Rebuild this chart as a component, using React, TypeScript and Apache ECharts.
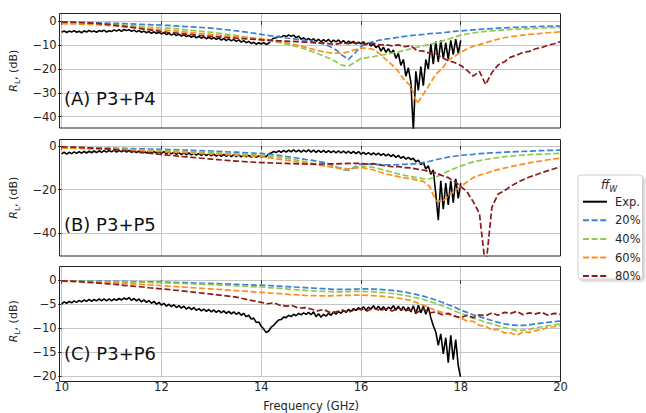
import React, { useEffect, useRef } from 'react';
import * as echarts from 'echarts';

// ---------- data ----------
// model curves sampled every 0.125 GHz from 10 to 20 GHz (81 points)
const MODEL_FREQ: number[] = Array.from({ length: 81 }, (_, i) => 10 + i * 0.125);
// measured curves sampled every 0.05 GHz from 10 to 18 GHz (161 points)
const EXP_FREQ: number[] = Array.from({ length: 161 }, (_, i) => +(10 + i * 0.05).toFixed(2));

const SERIES_NAMES = ['Exp.', '20%', '40%', '60%', '80%'];
const PANEL_LABELS = ['(A) P3+P4', '(B) P3+P5', '(C) P3+P6'];
const X_TICKS = [10, 12, 14, 16, 18, 20];
const Y_TICKS_A = [-40, -30, -20, -10, 0];
const Y_TICKS_B = [-40, -20, 0];
const Y_TICKS_C = [-20, -15, -10, -5, 0];

// ---- Panel A : P3+P4 ----
const A_EXP = [
  -4.6, -4.0, -4.7, -4.1, -4.5, -3.9, -4.6, -4.2, -4.8, -4.0, -4.5, -3.8, -4.4, -4.1, -4.6, -3.9, -4.3, -3.7, -4.5, -4.0,
  -4.3, -3.6, -4.1, -3.5, -4.2, -3.4, -3.9, -3.5, -4.2, -3.7, -4.4, -3.9, -4.6, -4.1, -4.8, -4.3, -5.0, -4.4, -5.1, -4.6,
  -5.3, -4.7, -5.6, -5.0, -5.8, -5.2, -6.0, -5.4, -6.2, -5.6, -6.4, -5.9, -6.7, -6.1, -6.9, -6.3, -7.1, -6.5, -7.3, -6.7,
  -7.4, -6.8, -7.6, -7.0, -7.9, -7.2, -8.1, -7.4, -8.2, -7.6, -8.4, -7.8, -8.7, -8.1, -9.0, -8.4, -9.3, -8.8, -9.6, -9.0,
  -9.5, -8.9, -9.7, -9.2, -7.9, -7.1, -6.9, -6.3, -6.7, -5.9, -6.4, -5.7, -6.3, -5.8, -6.9, -6.2, -7.5, -6.9, -7.8, -7.2,
  -8.1, -7.3, -8.4, -7.5, -8.6, -7.7, -8.5, -7.6, -8.8, -7.9, -8.6, -7.8, -9.0, -8.1, -9.2, -8.3, -9.1, -8.4, -9.5, -8.7,
  -9.4, -8.6, -9.8, -9.0, -10.4, -9.5, -11.0, -10.2, -12.5, -10.8, -13.0, -11.5, -13.5, -12.0, -15.5, -13.5, -18.5, -16.0, -23.0, -19.5,
  -25.5, -46.0, -21.0, -29.0, -19.0, -27.0, -16.0, -20.0, -9.5, -18.0, -8.5, -17.0, -8.0, -15.5, -9.0, -16.0, -8.0, -14.0, -7.5, -13.5,
  -8.0,
];
const A_20 = [
  -0.4, -0.4, -0.45, -0.5, -0.55, -0.6, -0.7, -0.75,
  -0.8, -0.9, -1.0, -1.1, -1.2, -1.3, -1.4, -1.5,
  -1.6, -1.75, -1.9, -2.05, -2.2, -2.35, -2.55, -2.7,
  -2.9, -3.15, -3.4, -3.7, -4.0, -4.35, -4.7, -5.1,
  -5.5, -5.9, -6.2, -6.6, -7.0, -7.3, -7.6, -7.95,
  -8.3, -8.8, -9.5, -10.6, -12.0, -14.3, -16.0, -13.4,
  -10.6, -9.3, -8.5, -7.9, -7.5, -7.1, -6.7, -6.3,
  -6.0, -5.7, -5.5, -5.2, -5.0, -4.8, -4.5, -4.2,
  -4.0, -3.8, -3.6, -3.4, -3.2, -3.05, -2.9, -2.75,
  -2.6, -2.5, -2.4, -2.3, -2.2, -2.15, -2.1, -2.05,
  -2.0,
];
const A_40 = [
  -0.7, -0.75, -0.8, -0.85, -0.95, -1.05, -1.15, -1.2,
  -1.3, -1.45, -1.6, -1.8, -2.0, -2.2, -2.4, -2.55,
  -2.7, -2.9, -3.1, -3.35, -3.6, -3.85, -4.1, -4.35,
  -4.6, -4.9, -5.3, -5.6, -6.0, -6.4, -6.8, -7.2,
  -7.6, -8.1, -8.6, -9.0, -9.5, -10.1, -10.8, -11.6,
  -12.5, -13.5, -14.5, -15.6, -17.0, -18.4, -18.8, -17.2,
  -15.6, -15.2, -14.8, -14.3, -13.8, -13.3, -12.8, -12.2,
  -11.5, -10.9, -10.3, -9.7, -9.0, -8.3, -7.5, -6.6,
  -5.8, -5.3, -4.9, -4.5, -4.2, -4.0, -3.8, -3.6,
  -3.4, -3.3, -3.2, -3.05, -2.9, -2.8, -2.7, -2.65,
  -2.6,
];
const A_60 = [
  -1.0, -1.05, -1.1, -1.2, -1.3, -1.45, -1.55, -1.7,
  -1.8, -2.0, -2.2, -2.45, -2.7, -2.95, -3.2, -3.35,
  -3.5, -3.75, -4.0, -4.25, -4.5, -4.75, -5.0, -5.25,
  -5.5, -5.75, -5.95, -6.2, -6.4, -6.6, -6.85, -7.05,
  -7.3, -7.7, -8.1, -8.5, -9.0, -9.6, -10.2, -10.8,
  -11.5, -12.2, -12.8, -13.2, -13.4, -13.3, -12.8, -12.0,
  -11.2, -11.3, -11.8, -13.6, -16.0, -18.3, -21.0, -24.8,
  -27.2, -34.5, -30.6, -26.5, -22.2, -19.8, -16.3, -14.7,
  -13.0, -11.6, -10.5, -9.8, -9.0, -8.2, -7.5, -6.9,
  -6.4, -6.1, -5.8, -5.5, -5.3, -5.0, -4.8, -4.6,
  -4.4,
];
const A_80 = [
  -0.3, -0.35, -0.4, -0.5, -0.6, -0.75, -0.95, -1.2,
  -1.5, -1.8, -2.1, -2.45, -2.8, -3.2, -3.55, -3.9,
  -4.3, -4.6, -4.85, -5.1, -5.4, -5.6, -5.85, -6.1,
  -6.3, -6.5, -6.7, -6.9, -7.1, -7.3, -7.45, -7.6,
  -7.8, -7.9, -8.05, -8.2, -8.3, -8.45, -8.55, -8.7,
  -8.8, -9.2, -9.0, -9.5, -9.6, -9.1, -9.4, -9.0,
  -9.3, -9.7, -9.2, -9.9, -9.8, -10.3, -9.9, -10.6,
  -10.2, -12.3, -12.5, -13.4, -13.5, -15.2, -16.5, -17.3,
  -18.5, -20.5, -23.0, -21.0, -26.5, -21.5, -18.3, -17.0,
  -15.0, -14.2, -13.0, -12.6, -11.5, -11.0, -10.0, -9.4,
  -8.5,
];

// ---- Panel B : P3+P5 ----
const B_EXP = [
  -3.6, -2.8, -3.7, -2.9, -3.5, -2.7, -3.4, -2.6, -3.3, -2.5, -3.2, -2.4, -3.1, -2.3, -3.0, -2.2, -2.9, -2.1, -2.8, -2.0,
  -2.7, -1.9, -2.8, -2.0, -2.7, -1.9, -2.8, -2.0, -2.9, -2.1, -3.0, -2.2, -3.1, -2.3, -3.2, -2.4, -3.3, -2.5, -3.4, -2.6,
  -3.4, -2.6, -3.5, -2.7, -3.6, -2.8, -3.8, -3.0, -3.9, -3.1, -4.0, -3.2, -4.1, -3.3, -4.2, -3.4, -4.3, -3.5, -4.4, -3.6,
  -4.5, -3.7, -4.6, -3.8, -4.7, -3.8, -4.8, -3.9, -4.9, -4.0, -4.9, -4.1, -5.0, -4.2, -5.0, -4.3, -5.1, -4.4, -5.2, -4.5,
  -5.1, -4.3, -4.9, -3.6, -3.2, -2.5, -3.0, -2.2, -2.9, -2.0, -2.8, -1.9, -2.7, -1.8, -2.7, -1.9, -2.8, -1.9, -2.7, -1.8,
  -2.8, -1.9, -2.9, -2.0, -2.9, -2.0, -3.0, -2.1, -3.0, -2.2, -3.1, -2.2, -3.2, -2.3, -3.3, -2.4, -3.4, -2.5, -3.5, -2.6,
  -3.7, -2.9, -3.8, -3.0, -4.0, -3.2, -4.1, -3.3, -4.3, -3.5, -4.5, -3.7, -4.8, -4.0, -5.2, -4.3, -5.6, -4.8, -6.0, -5.2,
  -6.2, -5.6, -7.2, -6.5, -8.5, -7.5, -10.5, -9.0, -13.0, -11.0, -22.0, -34.0, -16.0, -29.0, -17.0, -27.0, -16.0, -26.0, -15.0, -24.0,
  -17.0,
];
const B_20 = [
  -0.8, -0.82, -0.85, -0.88, -0.9, -0.93, -0.96, -0.98,
  -1.0, -1.05, -1.1, -1.17, -1.25, -1.3, -1.38, -1.45,
  -1.5, -1.6, -1.7, -1.8, -1.9, -2.0, -2.1, -2.2,
  -2.3, -2.45, -2.6, -2.75, -2.85, -3.0, -3.15, -3.3,
  -3.4, -3.7, -4.0, -4.4, -4.8, -5.2, -5.6, -6.1,
  -6.5, -7.0, -7.5, -8.4, -9.5, -10.8, -11.2, -9.6,
  -8.2, -8.3, -8.4, -8.5, -8.6, -8.6, -8.5, -8.4,
  -8.3, -8.0, -7.6, -7.0, -6.3, -5.7, -5.1, -4.7,
  -4.3, -4.0, -3.8, -3.5, -3.3, -3.15, -3.0, -2.85,
  -2.7, -2.6, -2.5, -2.35, -2.2, -2.1, -2.0, -1.95,
  -1.9,
];
const B_40 = [
  -0.9, -0.95, -1.0, -1.05, -1.1, -1.15, -1.2, -1.25,
  -1.3, -1.4, -1.5, -1.6, -1.7, -1.8, -1.9, -2.0,
  -2.1, -2.2, -2.3, -2.4, -2.55, -2.65, -2.75, -2.9,
  -3.0, -3.15, -3.3, -3.45, -3.6, -3.75, -3.9, -4.05,
  -4.2, -4.5, -4.9, -5.2, -5.6, -6.1, -6.6, -7.2,
  -7.8, -8.4, -8.9, -9.5, -10.0, -10.6, -11.0, -10.0,
  -9.2, -9.4, -9.8, -10.5, -11.3, -12.0, -12.8, -13.4,
  -14.0, -14.5, -15.0, -15.0, -14.2, -13.0, -11.5, -10.3,
  -9.2, -8.2, -7.3, -6.7, -6.2, -5.7, -5.3, -4.9,
  -4.6, -4.4, -4.2, -4.0, -3.8, -3.7, -3.6, -3.5,
  -3.4,
];
const B_60 = [
  -1.0, -1.05, -1.1, -1.15, -1.2, -1.3, -1.35, -1.45,
  -1.5, -1.65, -1.8, -1.95, -2.1, -2.25, -2.4, -2.5,
  -2.6, -2.75, -2.85, -3.0, -3.1, -3.25, -3.35, -3.5,
  -3.6, -3.75, -3.9, -4.1, -4.25, -4.4, -4.55, -4.75,
  -4.9, -5.3, -5.7, -6.1, -6.5, -6.9, -7.4, -7.8,
  -8.3, -8.7, -9.1, -9.5, -9.8, -10.2, -10.5, -10.1,
  -9.8, -10.4, -11.0, -11.9, -12.8, -13.4, -14.0, -14.6,
  -15.0, -15.6, -16.2, -18.5, -25.0, -25.5, -23.0, -20.5,
  -18.5, -16.5, -14.5, -13.4, -12.5, -11.6, -10.8, -10.1,
  -9.5, -8.9, -8.3, -7.7, -7.2, -6.8, -6.3, -5.9,
  -5.6,
];
const B_80 = [
  -0.4, -0.45, -0.55, -0.65, -0.8, -0.95, -1.15, -1.3,
  -1.5, -1.8, -2.1, -2.4, -2.7, -3.0, -3.3, -3.6,
  -3.9, -4.2, -4.45, -4.75, -5.0, -5.25, -5.5, -5.75,
  -6.0, -6.25, -6.5, -6.7, -6.9, -7.1, -7.3, -7.45,
  -7.6, -7.7, -7.8, -7.9, -8.0, -8.1, -8.2, -8.25,
  -8.3, -8.3, -8.25, -8.2, -8.2, -8.1, -8.0, -8.0,
  -8.0, -8.3, -8.1, -8.7, -9.0, -9.5, -9.4, -9.9,
  -10.0, -10.6, -11.0, -11.8, -12.3, -13.5, -14.5, -16.2,
  -18.5, -21.0, -25.5, -31.0, -56.0, -28.0, -22.0, -20.5,
  -18.5, -16.8, -15.5, -14.2, -13.3, -12.2, -11.3, -10.4,
  -9.5,
];

// ---- Panel C : P3+P6 ----
const C_EXP = [
  -4.9, -4.5, -4.8, -4.4, -4.7, -4.3, -4.6, -4.2, -4.5, -4.1, -4.4, -4.0, -4.4, -4.0, -4.3, -3.9, -4.3, -3.9, -4.3, -3.9,
  -4.3, -3.9, -4.2, -3.8, -4.1, -3.7, -4.0, -3.6, -4.2, -3.8, -4.3, -3.9, -4.5, -4.1, -4.6, -4.2, -4.8, -4.4, -5.0, -4.6,
  -5.2, -4.8, -5.4, -5.0, -5.5, -5.1, -5.7, -5.3, -5.8, -5.4, -6.0, -5.6, -6.1, -5.7, -6.3, -5.9, -6.4, -6.0, -6.5, -6.1,
  -6.6, -6.2, -6.7, -6.3, -6.8, -6.4, -6.9, -6.5, -7.0, -6.6, -7.1, -6.7, -7.3, -6.9, -7.6, -7.3, -8.1, -7.9, -8.8, -8.7,
  -9.6, -10.2, -10.9, -10.6, -9.8, -9.4, -8.8, -8.3, -8.2, -7.7, -7.8, -7.3, -7.6, -7.1, -7.4, -6.9, -7.2, -6.8, -7.1, -6.7,
  -7.2, -6.6, -7.6, -7.0, -7.7, -7.1, -7.5, -6.9, -7.3, -6.6, -7.1, -6.5, -6.9, -6.3, -6.7, -6.1, -6.5, -5.9, -6.3, -5.7,
  -6.2, -5.5, -6.3, -5.6, -6.0, -5.3, -6.1, -5.4, -6.2, -5.5, -6.3, -5.6, -6.0, -5.3, -6.2, -5.4, -6.3, -5.5, -6.4, -5.6,
  -6.6, -5.3, -7.0, -5.2, -6.8, -5.4, -7.1, -5.6, -7.8, -9.5, -10.8, -13.6, -11.2, -15.4, -12.0, -17.2, -11.5, -16.6, -12.4, -17.8,
  -20.5,
];
const C_20 = [
  -0.1, -0.1, -0.1, -0.12, -0.14, -0.15, -0.17, -0.18,
  -0.2, -0.22, -0.24, -0.26, -0.28, -0.3, -0.32, -0.34,
  -0.35, -0.38, -0.42, -0.46, -0.5, -0.54, -0.58, -0.62,
  -0.65, -0.7, -0.75, -0.8, -0.85, -0.9, -0.95, -1.0,
  -1.0, -1.08, -1.15, -1.22, -1.3, -1.38, -1.45, -1.52,
  -1.6, -1.68, -1.75, -1.82, -1.9, -1.9, -1.88, -1.85,
  -1.8, -1.8, -1.85, -1.9, -2.0, -2.1, -2.25, -2.45,
  -2.7, -3.0, -3.3, -3.7, -4.1, -4.6, -5.1, -5.6,
  -6.2, -6.7, -7.2, -7.6, -8.0, -8.4, -8.8, -9.1,
  -9.3, -9.4, -9.4, -9.3, -9.1, -8.95, -8.8, -8.65,
  -8.5,
];
const C_40 = [
  -0.15, -0.16, -0.18, -0.2, -0.21, -0.23, -0.26, -0.28,
  -0.3, -0.32, -0.35, -0.38, -0.4, -0.42, -0.45, -0.48,
  -0.5, -0.55, -0.6, -0.65, -0.7, -0.75, -0.8, -0.85,
  -0.9, -0.96, -1.02, -1.08, -1.15, -1.22, -1.28, -1.34,
  -1.4, -1.5, -1.6, -1.7, -1.8, -1.9, -2.0, -2.1,
  -2.2, -2.25, -2.3, -2.35, -2.4, -2.4, -2.35, -2.3,
  -2.3, -2.35, -2.4, -2.5, -2.6, -2.75, -2.95, -3.15,
  -3.4, -3.7, -4.0, -4.4, -4.8, -5.3, -5.8, -6.4,
  -6.9, -7.4, -7.9, -8.3, -8.8, -9.1, -9.5, -9.9,
  -10.2, -10.5, -10.4, -10.3, -9.9, -9.7, -9.5, -9.3,
  -9.1,
];
const C_60 = [
  -0.2, -0.23, -0.26, -0.3, -0.33, -0.37, -0.41, -0.45,
  -0.5, -0.57, -0.64, -0.72, -0.8, -0.87, -0.95, -1.02,
  -1.1, -1.2, -1.28, -1.36, -1.45, -1.54, -1.62, -1.71,
  -1.8, -1.88, -1.97, -2.06, -2.15, -2.23, -2.32, -2.41,
  -2.5, -2.6, -2.7, -2.8, -2.9, -3.0, -3.05, -3.15,
  -3.2, -3.2, -3.25, -3.25, -3.2, -3.15, -3.15, -3.1,
  -3.1, -3.15, -3.2, -3.3, -3.4, -3.55, -3.75, -3.95,
  -4.2, -4.7, -5.2, -5.8, -6.3, -6.7, -7.1, -7.5,
  -7.9, -8.5, -8.6, -9.4, -9.6, -10.4, -10.2, -11.0,
  -11.0, -11.5, -10.8, -10.9, -10.5, -10.3, -9.8, -9.7,
  -9.4,
];
const C_80 = [
  -0.1, -0.15, -0.2, -0.3, -0.4, -0.5, -0.6, -0.7,
  -0.8, -0.9, -1.05, -1.15, -1.3, -1.4, -1.55, -1.65,
  -1.8, -1.9, -2.05, -2.15, -2.3, -2.45, -2.6, -2.75,
  -2.9, -3.05, -3.2, -3.35, -3.5, -3.8, -4.1, -4.35,
  -4.6, -4.9, -4.7, -5.2, -5.4, -5.3, -5.8, -5.7,
  -6.0, -6.4, -6.1, -6.7, -6.6, -6.2, -6.7, -6.1,
  -6.0, -6.4, -5.8, -6.3, -5.9, -6.4, -5.8, -6.3,
  -6.2, -6.7, -6.0, -6.8, -6.6, -7.2, -6.9, -7.5,
  -7.8, -7.3, -7.8, -7.2, -7.4, -6.8, -7.3, -6.7,
  -6.9, -6.5, -7.2, -6.8, -7.0, -6.7, -7.3, -6.9,
  -7.1,
];

const PANELS = [
  [A_EXP, A_20, A_40, A_60, A_80],
  [B_EXP, B_20, B_40, B_60, B_80],
  [C_EXP, C_20, C_40, C_60, C_80],
];
const Y_TICKS = [Y_TICKS_A, Y_TICKS_B, Y_TICKS_C];

// ---------- styling / layout ----------
const FONT = 'DejaVu Sans';
const INK = '#262626';
const COLORS = ['#000000', '#3d80d4', '#8ccb4e', '#ff8d1e', '#8b1a1a'];
const GRIDS = [
  { left: 59.5, top: 13.5, width: 501, height: 114.5 },
  { left: 59.5, top: 139.5, width: 501, height: 116.5 },
  { left: 59.5, top: 266.5, width: 501, height: 115 },
];
const Y_RANGES = [
  [-44.74, 3.27],
  [-50.4, 2.98],
  [-20, 2.89],
];
const LABEL_Y = [98.5, 224, 353.5];

const fmtMinus = (v: number) => (v < 0 ? '\u2212' + Math.abs(v) : String(v));

export default function App() {
  const ref = useRef<HTMLDivElement>(null);

  useEffect(() => {
    if (!ref.current) return;
    const chart = echarts.init(ref.current, undefined, { renderer: 'svg' });

    const xAxis = GRIDS.map((_, i) => ({
      type: 'value',
      gridIndex: i,
      min: 10,
      max: 20,
      interval: 2,
      axisLine: { show: false },
      axisTick: { show: true, length: 3.5, lineStyle: { color: INK, width: 1 } },
      axisLabel: {
        show: i === 2,
        fontSize: 11.5,
        color: INK,
        fontFamily: FONT,
        margin: 5,
        customValues: X_TICKS,
      },
      splitLine: { show: true, lineStyle: { color: '#c6c6c6', width: 1 } },
      name: i === 2 ? 'Frequency (GHz)' : '',
      nameLocation: 'middle',
      nameGap: 24,
      nameTextStyle: { fontSize: 11.5, color: INK, fontFamily: FONT },
    }));

    const yAxis = GRIDS.map((_, i) => ({
      type: 'value',
      gridIndex: i,
      min: Y_RANGES[i][0],
      max: Y_RANGES[i][1],
      axisLine: { show: false },
      axisTick: { show: true, length: 3.5, customValues: Y_TICKS[i], lineStyle: { color: INK, width: 1 } },
      axisLabel: {
        customValues: Y_TICKS[i],
        formatter: fmtMinus,
        fontSize: 11.5,
        color: INK,
        fontFamily: FONT,
        margin: 5,
      },
      splitLine: { show: true, lineStyle: { color: '#c6c6c6', width: 1 } },
      name: '{r|R}{s|L}{t|, (dB)}',
      nameLocation: 'middle',
      nameGap: 37,
      nameRotate: 90,
      nameTextStyle: {
        color: INK,
        fontFamily: FONT,
        rich: {
          r: { fontSize: 11, fontStyle: 'italic', fontFamily: FONT, color: INK, lineHeight: 16, verticalAlign: 'middle' },
          s: { fontSize: 7.5, fontFamily: FONT, color: INK, lineHeight: 9, verticalAlign: 'bottom' },
          t: { fontSize: 11, fontFamily: FONT, color: INK, lineHeight: 16, verticalAlign: 'middle' },
        },
      },
    }));

    const series: any[] = [];
    PANELS.forEach((arrs, p) => {
      arrs.forEach((vals, k) => {
        const freq = k === 0 ? EXP_FREQ : MODEL_FREQ;
        series.push({
          type: 'line',
          name: SERIES_NAMES[k],
          xAxisIndex: p,
          yAxisIndex: p,
          data: freq.map((f, j) => [f, vals[j]]),
          symbol: 'none',
          showSymbol: false,
          clip: true,
          silent: true,
          z: k === 0 ? 2 : 3,
          itemStyle: { color: COLORS[k] },
          lineStyle: {
            color: COLORS[k],
            width: k === 0 ? 1.6 : 1.7,
            type: k === 0 ? 'solid' : [6, 2.6],
          },
        });
      });
    });

    const graphic: any[] = [];
    GRIDS.forEach((g, i) => {
      graphic.push({
        type: 'rect',
        silent: true,
        z: 100,
        shape: { x: g.left, y: g.top, width: g.width, height: g.height },
        style: { fill: 'none', stroke: '#222222', lineWidth: 1 },
      });
      graphic.push({
        type: 'text',
        silent: true,
        z: 50,
        x: 64,
        y: LABEL_Y[i],
        style: {
          text: PANEL_LABELS[i],
          fontSize: 18,
          fontFamily: FONT,
          fill: '#111111',
          verticalAlign: 'middle',
          textAlign: 'left',
        },
      });
    });
    // legend frame and title
    graphic.push({
      type: 'rect',
      silent: true,
      z: 1,
      shape: { x: 578, y: 175, width: 64.5, height: 104, r: 3 },
      style: {
        fill: '#ffffff',
        stroke: '#cfcfcf',
        lineWidth: 1,
        shadowColor: 'rgba(0,0,0,0.18)',
        shadowOffsetX: 2,
        shadowOffsetY: 2,
        shadowBlur: 2,
      },
    });
    graphic.push({
      type: 'text',
      silent: true,
      z: 2,
      x: 609,
      y: 185,
      style: {
        text: '{i|ff}{s|W}',
        textAlign: 'center',
        verticalAlign: 'middle',
        rich: {
          i: { fontSize: 11.5, fontStyle: 'italic', fontFamily: FONT, fill: INK, lineHeight: 16, verticalAlign: 'middle' },
          s: { fontSize: 8, fontStyle: 'italic', fontFamily: FONT, fill: INK, lineHeight: 9, verticalAlign: 'bottom' },
        },
      },
    });

    chart.setOption({
      animation: false,
      backgroundColor: '#ffffff',
      grid: GRIDS.map((g) => ({ ...g, containLabel: false })),
      xAxis,
      yAxis,
      series,
      legend: {
        data: SERIES_NAMES,
        orient: 'vertical',
        left: 582,
        top: 195.7,
        padding: 0,
        itemWidth: 24,
        itemHeight: 10,
        itemGap: 6.6,
        selectedMode: false,
        itemStyle: { opacity: 0, color: 'transparent', borderColor: 'transparent', borderWidth: 0 },
        textStyle: { fontSize: 11.5, color: INK, fontFamily: FONT, padding: [0, 0, 0, 3] },
        z: 5,
      },
      graphic,
    });

    return () => chart.dispose();
  }, []);

  return (
    <div
      ref={ref}
      style={{ position: 'fixed', left: 0, top: 0, width: 646, height: 413, background: '#fff' }}
    />
  );
}
